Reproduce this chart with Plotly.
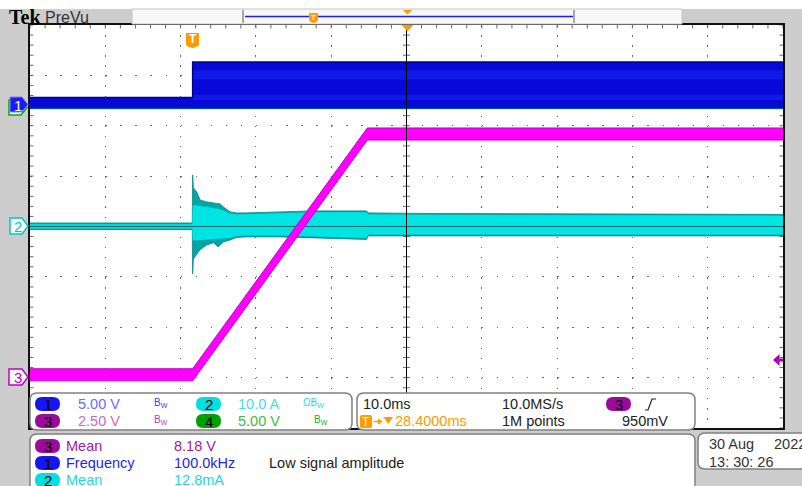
import plotly.graph_objects as go
import numpy as np

# ---------------- scope settings ----------------
T_LEFT, T_RIGHT = -21.6, 78.4      # ms  (10 ms/div, trigger delay 28.4 ms)
T_CENTER = 28.4
DIVS_Y = 4

CH1_SCALE, CH1_POS = 5.0, 2.40     # V/div, div
CH2_SCALE, CH2_POS = 10.0, 0.0     # A/div
CH3_SCALE, CH3_POS = 2.5, -2.98    # V/div
CH4_SCALE, CH4_POS = 5.0, 2.35     # V/div

# ---------------- data ----------------
# Ch1 switching node: envelope of the 100 kHz waveform (V)
ch1_t = [-21.6, 0.0, 0.0, 78.4]
ch1_hi = [0.8, 0.8, 4.33, 4.33]
ch1_lo = [-0.3, -0.3, -0.3, -0.3]
ch1_bands = [(2.6, 3.5), (0.55, 1.05)]   # brighter stripes inside the envelope (V)

# Ch4 (V)
ch4_t = [-21.6, 78.4]
ch4_v = [0.0, 0.0]

# Ch2 current envelope (A)
ch2_t = [-21.6, -0.05, 0.0, 0.1, 0.54, 0.98, 1.87, 2.75, 3.4, 3.64, 4.08, 4.97,
         5.85, 7.18, 11.6, 16.0, 23.1, 23.3, 30.2, 50.0, 78.4]
ch2_hi = [0.7, 0.7, 10.24, 7.66, 6.87, 5.28, 4.88, 4.68, 4.48, 4.48, 3.89, 2.90,
          2.70, 2.70, 2.90, 3.10, 3.10, 2.70, 2.60, 2.50, 2.40]
ch2_lo = [-0.6, -0.6, -9.40, -6.43, -5.60, -4.64, -3.65, -3.25, -4.05, -3.60, -3.06, -2.66,
          -2.16, -2.06, -2.06, -2.26, -2.56, -1.87, -1.87, -1.87, -1.87]
ch2_in_hi = [0.45, 0.45, 4.0, 4.2, 4.2, 4.0, 3.9, 3.7, 3.5, 3.4, 3.2, 2.6,
             2.45, 2.45, 2.65, 2.85, 2.85, 2.45, 2.35, 2.25, 2.15]
ch2_in_lo = [-0.4, -0.4, -2.6, -2.8, -2.8, -2.7, -2.6, -2.5, -2.5, -2.5, -2.4, -2.3,
             -1.9, -1.8, -1.8, -2.0, -2.3, -1.6, -1.6, -1.6, -1.6]

# Ch3 output voltage (V)
ch3_t = [-21.6, 0.0, 23.2, 78.4]
ch3_v = [0.09, 0.09, 12.04, 12.04]
ch3_noise = 0.3

# ---------------- helpers ----------------
def div(vals, scale, pos):
    return [pos + v / scale for v in vals]

PL, PR, PT, PB = 30, 783, 25, 428
W, H = PR - PL, PB - PT

def px(x):
    return (x - PL) / W

def py(y):
    return (PB - y) / H

def P(x, y):
    return f"{px(x):.5f},{py(y):.5f}"

def rrect(x0, y0, x1, y1, r):
    return (f"M {P(x0+r,y0)} L {P(x1-r,y0)} Q {P(x1,y0)} {P(x1,y0+r)} "
            f"L {P(x1,y1-r)} Q {P(x1,y1)} {P(x1-r,y1)} L {P(x0+r,y1)} "
            f"Q {P(x0,y1)} {P(x0,y1-r)} L {P(x0,y0+r)} Q {P(x0,y0)} {P(x0+r,y0)} Z")

def poly(pts):
    return "M " + " L ".join(P(x, y) for x, y in pts) + " Z"

def band(t, hi, lo):
    return list(t) + list(t)[::-1], list(hi) + list(lo)[::-1]

fig = go.Figure()

# ---------------- graticule ticks ----------------
sub_x = np.arange(T_LEFT, T_RIGHT + 0.01, 2.0)
sub_y = np.arange(-4, 4.01, 0.2)
tick_style = dict(color="#6a6a6a", size=5, line=dict(color="#6a6a6a", width=1))
fig.add_trace(go.Scatter(x=sub_x, y=[0] * len(sub_x), mode="markers",
                         marker=dict(symbol="line-ns", **tick_style), hoverinfo="skip"))
fig.add_trace(go.Scatter(x=[T_CENTER] * len(sub_y), y=sub_y, mode="markers",
                         marker=dict(symbol="line-ew", **tick_style), hoverinfo="skip"))
fig.add_trace(go.Scatter(x=sub_x, y=[4] * len(sub_x), mode="markers",
                         marker=dict(symbol="line-ns", **tick_style), hoverinfo="skip"))
fig.add_trace(go.Scatter(x=[T_LEFT] * len(sub_y), y=sub_y, mode="markers",
                         marker=dict(symbol="line-ew", **tick_style), hoverinfo="skip"))
fig.add_trace(go.Scatter(x=[T_RIGHT] * len(sub_y), y=sub_y, mode="markers",
                         marker=dict(symbol="line-ew", **tick_style), hoverinfo="skip"))

# ---------------- Ch4 ----------------
fig.add_trace(go.Scatter(x=ch4_t, y=div(ch4_v, CH4_SCALE, CH4_POS), mode="lines",
                         line=dict(color="#00b000", width=2.5), hoverinfo="skip"))

# ---------------- Ch1 ----------------
bx, by = band(ch1_t, ch1_hi, ch1_lo)
fig.add_trace(go.Scatter(x=bx, y=div(by, CH1_SCALE, CH1_POS), fill="toself",
                         fillcolor="#0808d8", mode="lines", line=dict(width=0), hoverinfo="skip"))
for lo, hi in ch1_bands:
    sx, sy = band([0.0, T_RIGHT], [hi, hi], [lo, lo])
    fig.add_trace(go.Scatter(x=sx, y=div(sy, CH1_SCALE, CH1_POS), fill="toself",
                             fillcolor="rgba(40,70,255,0.3)", mode="lines", line=dict(width=0),
                             hoverinfo="skip"))
fig.add_trace(go.Scatter(x=ch1_t, y=div(ch1_hi, CH1_SCALE, CH1_POS), mode="lines",
                         line=dict(color="#000090", width=1.5), hoverinfo="skip"))

# ---------------- Ch2 ----------------
ox, oy = band(ch2_t, ch2_hi, ch2_lo)
fig.add_trace(go.Scatter(x=ox, y=div(oy, CH2_SCALE, CH2_POS), fill="toself",
                         fillcolor="#00a6a6", mode="lines", line=dict(width=0.8, color="#008888"),
                         hoverinfo="skip"))
ix, iy = band(ch2_t, ch2_in_hi, ch2_in_lo)
fig.add_trace(go.Scatter(x=ix, y=div(iy, CH2_SCALE, CH2_POS), fill="toself",
                         fillcolor="#00e4e4", mode="lines", line=dict(width=0), hoverinfo="skip"))
fig.add_trace(go.Scatter(x=[T_LEFT, T_RIGHT], y=[CH2_POS, CH2_POS], mode="lines",
                         line=dict(color="#006a6a", width=1.2), hoverinfo="skip"))

# ---------------- Ch3 ----------------
hi3 = [v + ch3_noise for v in ch3_v]
lo3 = [v - ch3_noise for v in ch3_v]
mx, my = band(ch3_t, hi3, lo3)
fig.add_trace(go.Scatter(x=mx, y=div(my, CH3_SCALE, CH3_POS), fill="toself",
                         fillcolor="#ff00ff", mode="lines", line=dict(width=0), hoverinfo="skip"))
fig.add_trace(go.Scatter(x=ch3_t, y=div(hi3, CH3_SCALE, CH3_POS), mode="lines",
                         line=dict(color="#c000c0", width=1), hoverinfo="skip"))
fig.add_trace(go.Scatter(x=ch3_t, y=div(lo3, CH3_SCALE, CH3_POS), mode="lines",
                         line=dict(color="#c000c0", width=1), hoverinfo="skip"))

# ---------------- shapes ----------------
shapes = []
# centre (delay) line
shapes.append(dict(type="line", xref="x", yref="y", x0=T_CENTER, x1=T_CENTER, y0=-4, y1=4,
                   line=dict(color="#000000", width=1), layer="above"))
# top white strip and record bar
shapes.append(dict(type="rect", xref="paper", yref="paper", x0=px(-5), x1=px(810),
                   y0=py(9), y1=py(-5), fillcolor="#ffffff", line=dict(width=0)))
shapes.append(dict(type="rect", xref="paper", yref="paper", x0=px(132), x1=px(682),
                   y0=py(24), y1=py(9), fillcolor="#f8f8f8", line=dict(color="#c4c4c4", width=1)))
shapes.append(dict(type="line", xref="paper", yref="paper", x0=px(245), x1=px(573),
                   y0=py(16.5), y1=py(16.5), line=dict(color="#1a1aff", width=1.5)))
for bxp in (243, 574):
    shapes.append(dict(type="line", xref="paper", yref="paper", x0=px(bxp), x1=px(bxp),
                       y0=py(23), y1=py(10), line=dict(color="#a8a8a8", width=2)))
ORANGE = "#ff9a00"
shapes.append(dict(type="path", xref="paper", yref="paper",
                   path=poly([(403, 10), (412, 10), (407.5, 14.5)]), fillcolor=ORANGE, line=dict(width=0)))
shapes.append(dict(type="path", xref="paper", yref="paper",
                   path=poly([(401.5, 25), (413.5, 25), (407.5, 31.5)]), fillcolor=ORANGE, line=dict(width=0)))
# trigger T markers
def shield(x0, y0, x1, y1):
    xm = (x0 + x1) / 2
    return (f"M {P(x0,y0)} L {P(x1,y0)} L {P(x1,y1-4)} Q {P(x1,y1-1)} {P(xm,y1)} "
            f"Q {P(x0,y1-1)} {P(x0,y1-4)} Z")
shapes.append(dict(type="path", xref="paper", yref="paper", path=shield(186, 33, 199, 48),
                   fillcolor=ORANGE, line=dict(width=0)))
shapes.append(dict(type="path", xref="paper", yref="paper", path=shield(309, 13, 318, 23),
                   fillcolor=ORANGE, line=dict(width=0)))

# left channel markers
def pent(x0, y0, x1, y1):
    yc = (y0 + y1) / 2
    return poly([(x0, y0), (x1 - 6, y0), (x1, yc), (x1 - 6, y1), (x0, y1)])
shapes.append(dict(type="path", xref="paper", yref="paper", path=pent(9, 100, 27, 115),
                   fillcolor="#ffffff", line=dict(color="#00aa00", width=1.5)))
shapes.append(dict(type="path", xref="paper", yref="paper", path=pent(10, 97, 28, 112),
                   fillcolor="#1a1aff", line=dict(color="#8080ff", width=1)))
shapes.append(dict(type="path", xref="paper", yref="paper", path=pent(10, 218, 28, 234),
                   fillcolor="#ffffff", line=dict(color="#00c8c8", width=1.5)))
shapes.append(dict(type="path", xref="paper", yref="paper", path=pent(9, 369, 28, 385),
                   fillcolor="#ffffff", line=dict(color="#c000c0", width=1.5)))
# trigger level arrow (right)
shapes.append(dict(type="path", xref="paper", yref="paper",
                   path=poly([(773, 360), (779.5, 354), (779.5, 358.5), (783, 358.5),
                              (783, 361.5), (779.5, 361.5), (779.5, 366)]),
                   fillcolor="#b000b0", line=dict(width=0)))

# bottom panels
PANEL_LINE = dict(color="#808080", width=1.5)
shapes.append(dict(type="path", xref="paper", yref="paper", path=rrect(30, 393, 352, 430, 7),
                   fillcolor="#ffffff", line=PANEL_LINE, layer="above"))
shapes.append(dict(type="path", xref="paper", yref="paper", path=rrect(357, 393, 695, 430, 7),
                   fillcolor="#ffffff", line=PANEL_LINE, layer="above"))
shapes.append(dict(type="rect", xref="paper", yref="paper", x0=px(695.5), x1=px(810),
                   y0=py(486), y1=py(430.5), fillcolor="#cdcdcd", line=dict(width=0), layer="above"))
shapes.append(dict(type="path", xref="paper", yref="paper", path=rrect(30, 434, 695, 500, 7),
                   fillcolor="#ffffff", line=PANEL_LINE, layer="above"))
shapes.append(dict(type="path", xref="paper", yref="paper", path=rrect(698, 433, 815, 469, 7),
                   fillcolor="#ffffff", line=PANEL_LINE, layer="above"))

# badges
CH_BADGE = {"1": "#1616f0", "2": "#00e0e0", "3": "#9c0a9c", "4": "#00a000"}
badges = [("1", 35, 397), ("2", 196, 397), ("3", 35, 414), ("4", 196, 414),
          ("3", 606, 397), ("3", 35, 439), ("1", 35, 456), ("2", 35, 473)]
for ch, bx0, by0 in badges:
    shapes.append(dict(type="path", xref="paper", yref="paper",
                       path=rrect(bx0, by0, bx0 + 25, by0 + 14, 7),
                       fillcolor=CH_BADGE[ch], line=dict(width=0), layer="above"))
# orange T box, arrow and delay triangle in timebase panel
shapes.append(dict(type="path", xref="paper", yref="paper", path=rrect(360, 415, 372, 428, 2),
                   fillcolor=ORANGE, line=dict(width=0), layer="above"))
shapes.append(dict(type="line", xref="paper", yref="paper", x0=px(373.5), x1=px(379),
                   y0=py(421.5), y1=py(421.5), line=dict(color=ORANGE, width=1.5), layer="above"))
shapes.append(dict(type="path", xref="paper", yref="paper",
                   path=poly([(378, 418.5), (382.5, 421.5), (378, 424.5)]),
                   fillcolor=ORANGE, line=dict(width=0), layer="above"))
shapes.append(dict(type="path", xref="paper", yref="paper",
                   path=poly([(383.5, 417), (393, 417), (388.25, 424)]),
                   fillcolor=ORANGE, line=dict(width=0), layer="above"))
# rising edge symbol
shapes.append(dict(type="path", xref="paper", yref="paper",
                   path=f"M {P(645,410)} L {P(648,410)} L {P(652,399)} L {P(656,399)}",
                   line=dict(color="#222222", width=1.2), layer="above"))

# ---------------- text ----------------
TEKF = "Liberation Sans, Arial, sans-serif"
FS = 14.5
ann = []
def txt(s, x, y, color="#222222", size=FS, anchor="left", family=TEKF):
    ann.append(dict(text=s, x=px(x), y=py(y), xref="paper", yref="paper", xanchor=anchor,
                    yanchor="middle", showarrow=False, font=dict(family=family, size=size, color=color)))

txt("<b>Tek</b>", 7, 17, "#000000", 20, family="Liberation Serif, DejaVu Serif, serif")
txt("PreVu", 43, 17, "#333333", 16)
txt("<b>T</b>", 192.5, 39.5, "#ffffff", 12, "center")
txt("<b>T</b>", 313.5, 17.5, "#ffffff", 8, "center")
# left markers
txt("1", 18, 105, "#ffffff", 15, "center")
txt("2", 18, 226.5, "#00c8c8", 15, "center")
txt("3", 17.5, 377.5, "#c000c0", 15, "center")
# badges text
for ch, bx0, by0 in badges:
    txt(ch, bx0 + 12.5, by0 + 7.5, "#000000", 15, "center")
# vertical panel
txt("5.00 V", 76, 404, "#6a6aff")
txt("B<sub>W</sub>", 152, 403, "#3a3aff", 10)
txt("10.0 A", 236, 404, "#44e0e0")
txt("ΩB<sub>W</sub>", 301, 403, "#33d8d8", 10)
txt("2.50 V", 76, 421, "#c46cc4")
txt("B<sub>W</sub>", 152, 420, "#b040b0", 10)
txt("5.00 V", 236, 421, "#44b844")
txt("B<sub>W</sub>", 312, 420, "#22aa22", 10)
# timebase panel
txt("10.0ms", 361, 404)
txt("10.0MS/s", 500, 404)
txt("T", 366, 421.5, "#ffffff", 12, "center")
txt("28.4000ms", 393, 421, ORANGE)
txt("1M points", 500, 421)
txt("950mV", 620, 421)
# measurements
txt("Mean", 64, 446, "#a020a0")
txt("8.18 V", 172, 446, "#a020a0")
txt("Frequency", 64, 463, "#2424ee")
txt("100.0kHz", 172, 463, "#2424ee")
txt("Low signal amplitude", 267, 463)
txt("Mean", 64, 479.5, "#22d8d8")
txt("12.8mA", 172, 479.5, "#22d8d8")
# date
txt("30 Aug", 707, 444, "#333333")
txt("2022", 772, 444, "#333333")
txt("13: 30: 26", 707, 462, "#333333")

fig.update_layout(
    width=802, height=486,
    margin=dict(l=PL, r=802 - PR, t=PT, b=486 - PB, pad=0),
    paper_bgcolor="#cdcdcd", plot_bgcolor="#ffffff",
    showlegend=False, shapes=shapes, annotations=ann,
    xaxis=dict(range=[T_LEFT, T_RIGHT], tick0=T_LEFT, dtick=10, showgrid=True,
               gridcolor="#6a6a6a", gridwidth=1, griddash="1.5px,8.58px",
               showticklabels=False, ticks="", zeroline=False, showline=True,
               linecolor="#111111", linewidth=1.5, mirror=True, fixedrange=True),
    yaxis=dict(range=[-DIVS_Y, DIVS_Y], tick0=-4, dtick=1, showgrid=True,
               gridcolor="#6a6a6a", gridwidth=1, griddash="1.5px,13.56px",
               showticklabels=False, ticks="", zeroline=False, showline=True,
               linecolor="#111111", linewidth=1.5, mirror=True, fixedrange=True),
)

fig.write_html("out.html", config={"displayModeBar": False},
               post_script="document.body.style.margin='0';document.body.style.overflow='hidden';")
